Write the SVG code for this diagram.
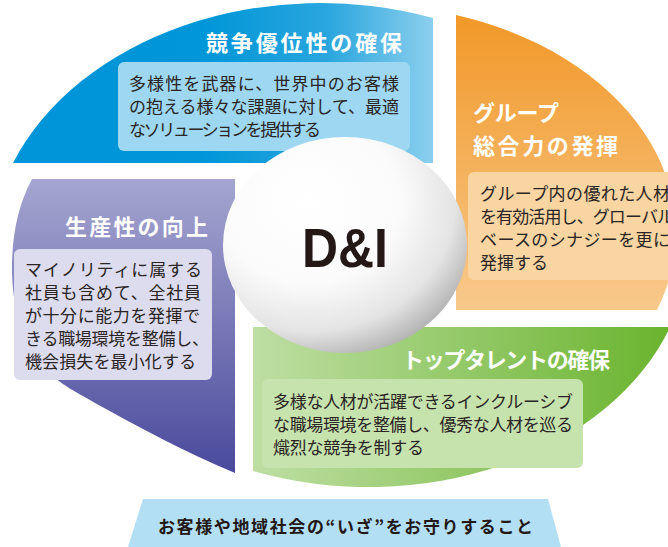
<svg xmlns="http://www.w3.org/2000/svg" width="668" height="547" viewBox="0 0 668 547">
  <defs>
    <linearGradient id="gBlue" gradientUnits="userSpaceOnUse" x1="13" y1="0" x2="433" y2="0">
      <stop offset="0" stop-color="#0094d8"/>
      <stop offset="0.45" stop-color="#0096d8"/>
      <stop offset="0.75" stop-color="#2aa6de"/>
      <stop offset="1" stop-color="#8ccfee"/>
    </linearGradient>
    <linearGradient id="gOrange" gradientUnits="userSpaceOnUse" x1="0" y1="15" x2="0" y2="310">
      <stop offset="0" stop-color="#f19828"/>
      <stop offset="1" stop-color="#f8c98c"/>
    </linearGradient>
    <linearGradient id="gPurple" gradientUnits="userSpaceOnUse" x1="0" y1="179" x2="0" y2="473">
      <stop offset="0" stop-color="#a5a5d0"/>
      <stop offset="1" stop-color="#4a4a9d"/>
    </linearGradient>
    <linearGradient id="gGreen" gradientUnits="userSpaceOnUse" x1="253" y1="0" x2="668" y2="0">
      <stop offset="0" stop-color="#bedea3"/>
      <stop offset="1" stop-color="#6ab42e"/>
    </linearGradient>
    <radialGradient id="gBall" cx="0.35" cy="0.3" r="0.75" fx="0.35" fy="0.3">
      <stop offset="0" stop-color="#ffffff"/>
      <stop offset="0.5" stop-color="#fbfbfb"/>
      <stop offset="0.8" stop-color="#e4e4e4"/>
      <stop offset="1" stop-color="#b3b3b3"/>
    </radialGradient>
  </defs>
  <style>
    .title { font-family: "Noto Sans CJK JP", "Noto Sans", sans-serif; font-weight: bold; font-size: 22px; fill: #ffffff; }
    .body { font-family: "Noto Sans CJK JP", "Noto Sans", sans-serif; font-size: 17px; fill: #2a2424; }
    .banner { font-family: "Noto Sans CJK JP", "Noto Sans", sans-serif; font-weight: bold; font-size: 17px; fill: #231815; }
    .di { font-family: "Liberation Sans", Arial, sans-serif; font-weight: bold; font-size: 55px; fill: #231815; }
  </style>

  <g id="node-blue">
    <path d="M13,163 A330,251 0 0 1 433,18 L433,163 Z" fill="url(#gBlue)"/>
    <text class="title" x="206" y="51" textLength="196" lengthAdjust="spacing">競争優位性の確保</text>
    <rect x="118" y="62" width="292" height="89" rx="6" fill="#9ed7f1"/>
    <text class="body">
      <tspan x="129" y="90" textLength="270" lengthAdjust="spacing">多様性を武器に、世界中のお客様</tspan>
      <tspan x="129" y="113" textLength="270" lengthAdjust="spacing">の抱える様々な課題に対して、最適</tspan>
      <tspan x="129" y="136" textLength="192" lengthAdjust="spacing">なソリューションを提供する</tspan>
    </text>
  </g>

  <g id="node-orange">
    <path d="M456,15 A315,228 0 0 1 657,310 L456,310 Z" fill="url(#gOrange)"/>
    <text class="title">
      <tspan x="473" y="121" textLength="86" lengthAdjust="spacing">グループ</tspan>
      <tspan x="473" y="154" textLength="145" lengthAdjust="spacing">総合力の発揮</tspan>
    </text>
    <rect x="468" y="172" width="220" height="108" rx="6" fill="#f9d5a2"/>
    <text class="body">
      <tspan x="480" y="200" textLength="190" lengthAdjust="spacing">グループ内の優れた人材</tspan>
      <tspan x="480" y="223" textLength="194" lengthAdjust="spacing">を有効活用し、グローバル</tspan>
      <tspan x="480" y="246" textLength="190" lengthAdjust="spacing">ベースのシナジーを更に</tspan>
      <tspan x="480" y="269">発揮する</tspan>
    </text>
  </g>

  <g id="node-purple">
    <path d="M235,179 L32,179 C18,205 12,235 12,268 C12,310 24,345 40,365 C60,385 80,394 95,403 C140,428 185,452 235,473 Z" fill="url(#gPurple)"/>
    <text class="title" x="65" y="235" textLength="143" lengthAdjust="spacing">生産性の向上</text>
    <rect x="14" y="249" width="198" height="131" rx="6" fill="#dcdcee"/>
    <text class="body">
      <tspan x="25" y="276" textLength="177" lengthAdjust="spacing">マイノリティに属する</tspan>
      <tspan x="25" y="299" textLength="176" lengthAdjust="spacing">社員も含めて、全社員</tspan>
      <tspan x="25" y="322" textLength="175" lengthAdjust="spacing">が十分に能力を発揮で</tspan>
      <tspan x="25" y="345" textLength="184" lengthAdjust="spacing">きる職場環境を整備し、</tspan>
      <tspan x="25" y="368" textLength="171" lengthAdjust="spacing">機会損失を最小化する</tspan>
    </text>
  </g>

  <g id="node-green">
    <path d="M253,327 L670,327 A320,240 0 0 1 253,471 Z" fill="url(#gGreen)"/>
    <text class="title" x="402" y="368" textLength="208" lengthAdjust="spacing">トップタレントの確保</text>
    <rect x="262" y="379" width="321" height="89" rx="6" fill="#c6e2ad"/>
    <text class="body">
      <tspan x="273" y="408" textLength="300" lengthAdjust="spacing">多様な人材が活躍できるインクルーシブ</tspan>
      <tspan x="273" y="431" textLength="300" lengthAdjust="spacing">な職場環境を整備し、優秀な人材を巡る</tspan>
      <tspan x="273" y="454" textLength="151" lengthAdjust="spacing">熾烈な競争を制する</tspan>
    </text>
  </g>

  <g id="node-center">
    <ellipse cx="345" cy="245" rx="122" ry="108" fill="url(#gBall)"/>
    <text class="di" x="302" y="267" textLength="86" lengthAdjust="spacingAndGlyphs">D&amp;I</text>
  </g>

  <g id="node-banner">
    <path d="M143,499 L548,499 L561,547 L128,547 Z" fill="#b3dff5"/>
    <text class="banner" x="158" y="533" textLength="375" lengthAdjust="spacing">お客様や地域社会の“いざ”をお守りすること</text>
  </g>

  <g id="connectors"/>
</svg>
